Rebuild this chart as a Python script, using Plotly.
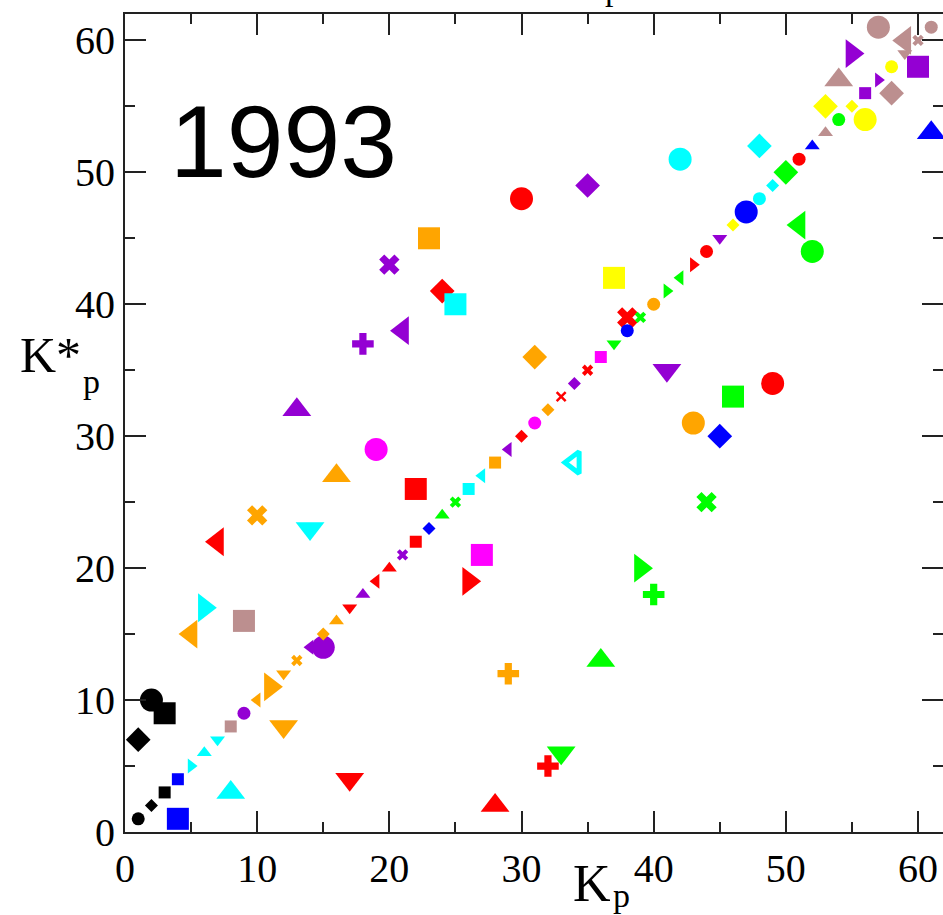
import plotly.graph_objects as go

# ---------------- data ----------------
# small markers lying on the diagonal (K*p = Kp)
diag_kp = [1, 2, 3, 4, 5, 6, 7, 8, 9, 10, 11, 12, 13, 14, 15, 16, 17, 18, 19, 20,
           21, 22, 23, 24, 25, 26, 27, 28, 29, 30, 31, 32, 33, 34, 35, 36, 37, 38, 39, 40,
           41, 42, 43, 44, 45, 46, 47, 48, 49, 50, 51, 52, 53, 54, 55, 56, 57, 58, 59, 60, 61]
diag_kstar = [1, 2, 3, 4, 5, 6, 7, 8, 9, 10, 11, 12, 13, 14, 15, 16, 17, 18, 19, 20,
              21, 22, 23, 24, 25, 26, 27, 28, 29, 30, 31, 32, 33, 34, 35, 36, 37, 38, 39, 40,
              41, 42, 43, 44, 45, 46, 47, 48, 49, 50, 51, 52, 53, 54, 55, 56, 57, 58, 59, 60, 61]
diag_color = ["k", "k", "k", "b", "c", "c", "c", "br", "v", "o",
              "o", "o", "o", "v", "o", "o", "r", "v", "r", "r",
              "v", "r", "b", "g", "g", "c", "c", "o", "v", "r",
              "m", "o", "r", "v", "r", "m", "g", "b", "g", "o",
              "g", "g", "r", "r", "v", "y", "b", "c", "c", "g",
              "r", "b", "br", "g", "y", "v", "v", "y", "br", "br", "br"]
diag_symbol = ["circle", "diamond", "square", "square", "triangle-right", "triangle-up", "triangle-down", "square", "circle", "triangle-left",
               "triangle-right", "triangle-down", "x", "triangle-left", "diamond", "triangle-up", "triangle-down", "triangle-up", "triangle-left", "triangle-up",
               "x", "square", "diamond", "triangle-up", "x", "square", "triangle-left", "square", "triangle-left", "diamond",
               "circle", "diamond", "x-thin", "diamond", "x", "square", "triangle-down", "circle", "x", "circle",
               "triangle-right", "triangle-left", "triangle-right", "circle", "triangle-down", "diamond", "circle", "circle", "diamond", "diamond",
               "circle", "triangle-up", "triangle-up", "circle", "diamond", "square", "triangle-right", "circle", "triangle-down", "x", "circle"]

# large markers (Kp, K*p)
big_kp = [1, 2, 3, 4, 5, 6, 7, 8, 9, 10, 11, 12, 13, 14, 15, 16, 17, 18, 19, 20,
          21, 22, 23, 24, 25, 26, 27, 28, 29, 30, 31, 32, 33, 34, 35, 36, 37, 38, 39, 40,
          41, 42, 43, 44, 45, 46, 47, 48, 49, 50, 51, 52, 53, 54, 55, 56, 57, 58, 59, 60, 61]
big_kstar = [7, 10, 9, 1, 15, 17, 22, 3, 16, 24, 11, 8, 32, 23, 14, 27, 4, 37, 29, 43,
             38, 26, 45, 41, 40, 19, 21, 2, 12, 48, 36, 5, 6, 28, 49, 13, 42, 39, 20, 18,
             35, 51, 31, 25, 30, 33, 47, 52, 34, 50, 46, 44, 55, 57, 59, 54, 61, 56, 60, 58, 53]
big_color = ["k", "k", "k", "b", "o", "c", "r", "c", "br", "o",
             "o", "o", "v", "c", "v", "o", "r", "v", "m", "v",
             "v", "r", "o", "r", "c", "r", "m", "r", "o", "r",
             "o", "r", "g", "c", "v", "g", "y", "r", "g", "g",
             "v", "c", "o", "g", "b", "g", "b", "c", "r", "g",
             "g", "g", "y", "br", "v", "y", "br", "br", "br", "v", "b"]
big_symbol = ["diamond", "circle", "square", "square", "triangle-left", "triangle-right", "triangle-left", "triangle-up", "square", "x",
              "triangle-right", "triangle-down", "triangle-up", "triangle-down", "circle", "triangle-up", "triangle-down", "cross", "circle", "x",
              "triangle-left", "square", "square", "diamond", "square", "triangle-right", "square", "triangle-up", "cross", "circle",
              "diamond", "cross", "triangle-down", "triangle-left-open", "diamond", "triangle-up", "square", "x", "triangle-right", "cross",
              "triangle-down", "circle", "circle", "x", "diamond", "square", "circle", "diamond", "circle", "diamond",
              "triangle-left", "circle", "diamond", "triangle-up", "triangle-right", "circle", "circle", "diamond", "triangle-left", "square", "triangle-up"]

x_ticks = [0, 10, 20, 30, 40, 50, 60]
y_ticks = [0, 10, 20, 30, 40, 50, 60]
year_label = "1993"

# ---------------- styles ----------------
palette = {"k": "#000000", "r": "#ff0000", "g": "#00ff00", "b": "#0000ff",
           "y": "#ffff00", "br": "#bc8f8f", "v": "#9400d3", "c": "#00ffff",
           "m": "#ff00ff", "o": "#ffa500"}


def big_size(sym):
    if sym == "circle":
        return 23
    if sym == "square":
        return 22
    if sym == "diamond":
        return 19
    if sym in ("x", "cross"):
        return 18
    if sym.endswith("-open"):
        return 19
    return 25


def small_size(sym):
    if sym == "circle":
        return 13
    if sym == "square":
        return 12
    if sym == "diamond":
        return 10
    if sym == "x":
        return 10
    if sym == "x-thin":
        return 9
    return 13


def line_w(sym):
    if sym.endswith("-open"):
        return 5
    if sym == "x-thin":
        return 2.5
    return 0


fig = go.Figure()

fig.add_trace(go.Scatter(
    x=big_kp, y=big_kstar, mode="markers", showlegend=False, cliponaxis=True,
    marker=dict(symbol=big_symbol, opacity=1,
                color=[palette[c] for c in big_color],
                size=[big_size(s) for s in big_symbol],
                line=dict(color=[palette[c] for c in big_color],
                          width=[line_w(s) for s in big_symbol])),
))

fig.add_trace(go.Scatter(
    x=diag_kp, y=diag_kstar, mode="markers", showlegend=False, cliponaxis=True,
    marker=dict(symbol=diag_symbol, opacity=1,
                color=[palette[c] for c in diag_color],
                size=[small_size(s) for s in diag_symbol],
                line=dict(color=[palette[c] for c in diag_color],
                          width=[line_w(s) for s in diag_symbol])),
))

# empty trace carrying the right-hand tick axis
fig.add_trace(go.Scatter(x=[], y=[], yaxis="y2", showlegend=False, hoverinfo="skip"))

W, H = 943, 915
ML, MR, MT, MB = 125, 0, 14, 83
PW, PH = W - ML - MR, H - MT - MB


def px(xp):
    return (xp - ML) / PW


def py(yp):
    return (H - MB - yp) / PH


tick_style = dict(
    ticks="inside", ticklen=21, tickwidth=2, tickcolor="#222222",
    minor=dict(dtick=5, ticks="inside", ticklen=10, tickwidth=2, tickcolor="#222222", showgrid=False),
    tickmode="array", showgrid=False, zeroline=False,
)
label_font = dict(family="Liberation Serif", size=40, color="#000000")

fig.update_layout(
    xaxis=dict(range=[0, 61.89], tickvals=x_ticks, ticktext=[str(v) for v in x_ticks],
               showline=True, linecolor="#222222", linewidth=2, mirror="ticks",
               tickfont=label_font, **tick_style),
    yaxis=dict(range=[0, 62], tickvals=y_ticks, ticktext=[str(v) for v in y_ticks],
               showline=True, linecolor="#222222", linewidth=2, mirror=False,
               tickfont=label_font, **tick_style),
    yaxis2=dict(range=[0, 62], tickvals=y_ticks, overlaying="y", side="right",
                showline=False, showticklabels=False, **tick_style),
)

serif = "Liberation Serif"
annotations = [
    dict(text=year_label, x=px(168), y=py(142), xanchor="left", yanchor="middle",
         font=dict(family="Liberation Sans", size=102, color="#000000")),
    dict(text="K*", x=px(18), y=py(355), xanchor="left", yanchor="middle",
         font=dict(family=serif, size=50, color="#000000")),
    dict(text="p", x=px(81), y=py(381), xanchor="left", yanchor="middle",
         font=dict(family=serif, size=34, color="#000000")),
    dict(text="K", x=px(592), y=py(883), xanchor="center", yanchor="middle",
         font=dict(family=serif, size=52, color="#000000")),
    dict(text="p", x=px(611), y=py(895), xanchor="left", yanchor="middle",
         font=dict(family=serif, size=34, color="#000000")),
    dict(text="p", x=px(613), y=py(-12), xanchor="center", yanchor="middle",
         font=dict(family=serif, size=34, color="#000000")),
]
for a in annotations:
    a.update(xref="paper", yref="paper", showarrow=False)

fig.update_layout(
    width=W, height=H, autosize=False,
    margin=dict(l=ML, r=MR, t=MT, b=MB, pad=0),
    paper_bgcolor="white", plot_bgcolor="white",
    annotations=annotations,
)

fig.write_html("out.html")
